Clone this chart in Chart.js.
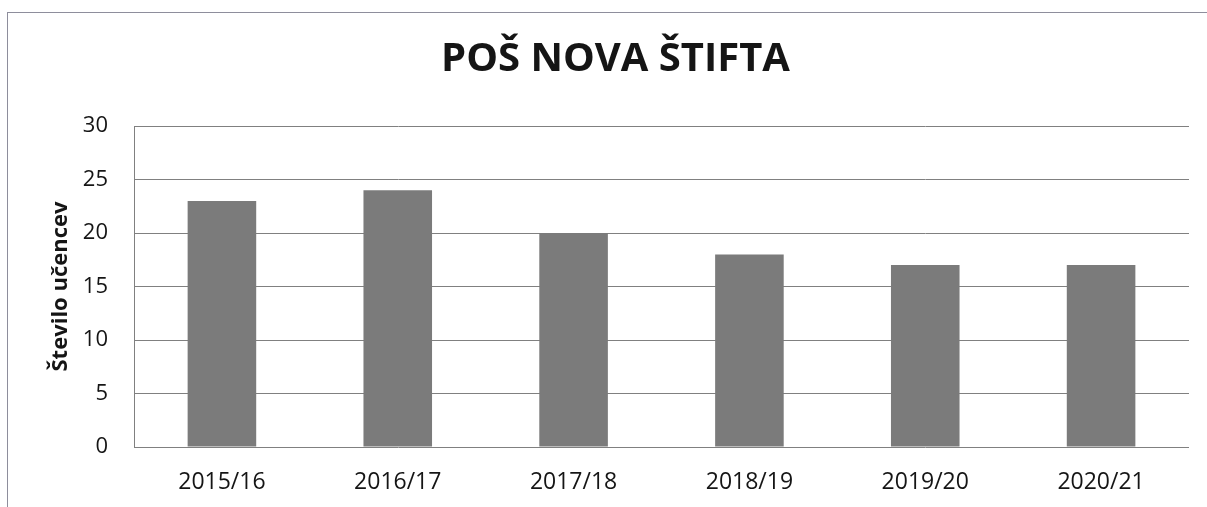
<!DOCTYPE html>
<html>
<head>
<meta charset="utf-8">
<script src="https://cdn.jsdelivr.net/npm/chart.js@4/dist/chart.umd.min.js"></script>
<style>
  html, body { margin: 0; padding: 0; background: #ffffff; }
  #wrap { position: relative; width: 1207px; height: 507px; overflow: hidden; }
  #frame { position: absolute; left: 7px; top: 12px; width: 1400px; height: 700px;
           border-left: 1px solid #8e8e9c; border-top: 1px solid #8e8e9c; pointer-events: none; }
</style>
</head>
<body>
<div id="wrap">
  <canvas id="c" width="1207" height="507"></canvas>
  <div id="frame"></div>
</div>
<script>
const chartTitle = 'POŠ NOVA ŠTIFTA';
const yAxisTitle = 'Število učencev';
const categories = ['2015/16', '2016/17', '2017/18', '2018/19', '2019/20', '2020/21'];
const pupils = [23, 24, 20, 18, 17, 17];
const yTicks = [0, 5, 10, 15, 20, 25, 30];

const FONT = "'Open Sans', 'Liberation Sans', sans-serif";

new Chart(document.getElementById('c'), {
  type: 'bar',
  data: {
    labels: categories,
    datasets: [{
      data: pupils,
      backgroundColor: '#7b7b7b',
      borderWidth: 0,
      barPercentage: 0.39,
      categoryPercentage: 1.0
    }]
  },
  options: {
    responsive: false,
    animation: false,
    devicePixelRatio: 1,
    layout: { padding: { left: 42, right: 18, top: 0, bottom: 0 } },
    plugins: {
      legend: { display: false },
      tooltip: { enabled: false },
      title: {
        display: true,
        text: chartTitle,
        color: '#151515',
        font: { family: FONT, size: 40, weight: 'bold', lineHeight: 1.2 },
        padding: { top: 36, bottom: 42 }
      }
    },
    scales: {
      x: {
        grid: { display: false, drawTicks: false },
        border: { display: false },
        ticks: { color: '#151515', font: { family: FONT, size: 23 }, padding: 22 },
        afterFit: (s) => { s.height = 60; }
      },
      y: {
        min: yTicks[0],
        max: yTicks[yTicks.length - 1],
        afterBuildTicks: (s) => { s.ticks = yTicks.map(v => ({ value: v })); },
        grid: { color: '#808080', lineWidth: 1, drawTicks: false },
        border: { display: true, color: '#808080', width: 1 },
        ticks: { color: '#151515', font: { family: FONT, size: 22 }, padding: 26 },
        title: {
          display: true,
          text: yAxisTitle,
          color: '#151515',
          font: { family: FONT, size: 22, weight: 'bold', lineHeight: 1.2 },
          padding: { top: 6, bottom: 0 }
        },
        afterFit: (s) => { s.width = 92; }
      }
    }
  }
});
</script>
</body>
</html>
